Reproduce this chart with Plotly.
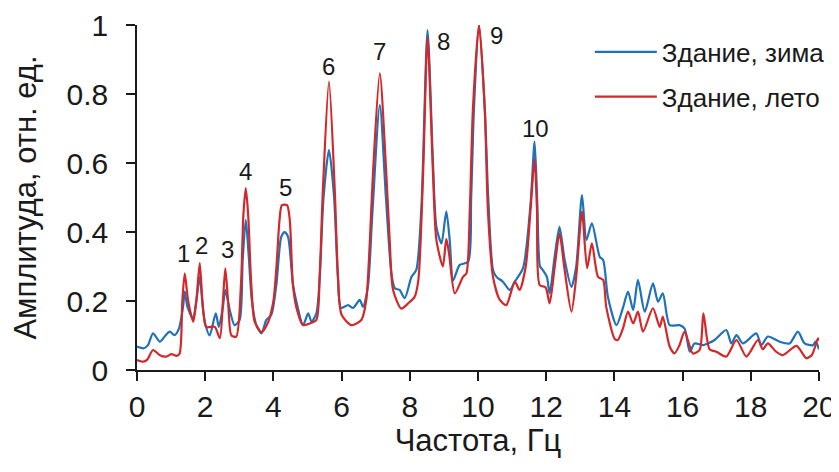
import plotly.graph_objects as go

# ---- data ----
freq_winter = [0.0, 0.2, 0.32, 0.47, 0.67, 0.81, 0.96, 1.1, 1.23, 1.35, 1.40, 1.48, 1.64, 1.74, 1.84, 1.93,
               2.0, 2.13, 2.31, 2.40, 2.52, 2.59, 2.72, 2.86, 3.01, 3.1, 3.19, 3.27, 3.37, 3.5, 3.65, 3.79,
               3.94, 4.09, 4.23, 4.33, 4.43, 4.57, 4.67, 4.87, 5.02, 5.12, 5.26, 5.36, 5.47, 5.63, 5.78, 5.89,
               5.98, 6.19, 6.34, 6.53, 6.63, 6.77, 6.9, 7.12, 7.3, 7.46, 7.56, 7.7, 7.85, 8.05, 8.19, 8.34,
               8.52, 8.68, 8.78, 8.93, 9.07, 9.17, 9.27, 9.46, 9.71, 9.8, 9.88, 10.03, 10.2, 10.3, 10.44, 10.54,
               10.73, 10.93, 11.08, 11.32, 11.54, 11.66, 11.74, 11.82, 11.9, 12.02, 12.1, 12.25, 12.39, 12.54,
               12.74, 12.88, 13.05, 13.18, 13.34, 13.57, 13.67, 13.81, 14.06, 14.25, 14.4, 14.55, 14.69, 14.89,
               15.13, 15.28, 15.42, 15.62, 15.91, 16.06, 16.21, 16.35, 16.6, 16.74, 16.94, 17.28, 17.43, 17.58,
               17.77, 18.16, 18.31, 18.5, 18.85, 19.14, 19.38, 19.58, 19.82, 19.9, 20.0]
amp_winter = [0.068, 0.063, 0.072, 0.106, 0.082, 0.097, 0.111, 0.101, 0.12, 0.183, 0.227, 0.183, 0.15, 0.2, 0.27, 0.18,
              0.135, 0.10, 0.164, 0.125, 0.183, 0.232, 0.174, 0.13, 0.145, 0.32, 0.435, 0.34, 0.2, 0.13, 0.106, 0.145,
              0.16, 0.25, 0.386, 0.40, 0.386, 0.25, 0.2, 0.13, 0.164, 0.14, 0.164, 0.27, 0.5, 0.638, 0.5, 0.27,
              0.18, 0.188, 0.18, 0.203, 0.183, 0.24, 0.45, 0.768, 0.5, 0.28, 0.237, 0.232, 0.208, 0.27, 0.29, 0.47,
              0.985, 0.6, 0.415, 0.367, 0.46, 0.377, 0.26, 0.304, 0.314, 0.5, 0.754, 1.0, 0.754, 0.5, 0.29, 0.27,
              0.256, 0.232, 0.256, 0.295, 0.48, 0.662, 0.48, 0.3, 0.29, 0.27, 0.222, 0.33, 0.415, 0.32,
              0.241, 0.3, 0.507, 0.377, 0.425, 0.328, 0.319, 0.212, 0.13, 0.18, 0.227, 0.174, 0.261, 0.169,
              0.251, 0.198, 0.222, 0.13, 0.13, 0.12, 0.053, 0.077, 0.072, 0.077, 0.087, 0.116, 0.077, 0.101,
              0.077, 0.106, 0.072, 0.097, 0.082, 0.077, 0.111, 0.077, 0.072, 0.082, 0.06]

freq_summer = [0.0, 0.18, 0.3, 0.47, 0.67, 0.86, 1.01, 1.16, 1.25, 1.33, 1.40, 1.50, 1.65, 1.74, 1.84, 1.92,
               2.03, 2.28, 2.43, 2.52, 2.59, 2.67, 2.77, 2.91, 3.05, 3.12, 3.19, 3.26, 3.35, 3.45, 3.65, 3.85,
               4.0, 4.09, 4.18, 4.25, 4.40, 4.48, 4.57, 4.67, 4.87, 5.07, 5.26, 5.36, 5.45, 5.63, 5.80, 5.89,
               6.0, 6.29, 6.58, 6.72, 6.83, 6.92, 7.12, 7.31, 7.41, 7.51, 7.75, 7.95, 8.14, 8.25, 8.39, 8.52,
               8.68, 8.78, 8.97, 9.07, 9.15, 9.32, 9.56, 9.66, 9.76, 9.85, 10.03, 10.2, 10.29, 10.44, 10.64, 10.83,
               11.08, 11.22, 11.40, 11.54, 11.66, 11.73, 11.81, 11.98, 12.1, 12.25, 12.39, 12.54, 12.74, 12.88,
               13.05, 13.2, 13.34, 13.52, 13.67, 13.76, 14.01, 14.1, 14.25, 14.4, 14.55, 14.69, 14.84, 15.13,
               15.33, 15.42, 15.62, 15.76, 15.9, 16.06, 16.3, 16.5, 16.61, 16.79, 16.99, 17.28, 17.58, 17.87,
               18.21, 18.35, 18.5, 18.74, 18.94, 19.34, 19.63, 19.8, 19.97, 20.0]
amp_summer = [0.029, 0.024, 0.03, 0.058, 0.043, 0.039, 0.046, 0.041, 0.048, 0.2, 0.28, 0.2, 0.14, 0.2, 0.31, 0.2,
              0.125, 0.125, 0.092, 0.2, 0.295, 0.2, 0.10, 0.097, 0.25, 0.45, 0.527, 0.45, 0.25, 0.14, 0.11, 0.14,
              0.2, 0.30, 0.435, 0.478, 0.478, 0.435, 0.25, 0.183, 0.13, 0.135, 0.145, 0.28, 0.52, 0.836, 0.52, 0.28,
              0.16, 0.13, 0.145, 0.2, 0.377, 0.57, 0.86, 0.57, 0.377, 0.232, 0.178, 0.193, 0.212, 0.26, 0.57, 0.965,
              0.57, 0.377, 0.30, 0.38, 0.338, 0.222, 0.27, 0.28, 0.464, 0.754, 1.0, 0.754, 0.464, 0.27, 0.203, 0.188,
              0.256, 0.232, 0.30, 0.464, 0.613, 0.464, 0.246, 0.24, 0.193, 0.3, 0.396, 0.29, 0.169, 0.27,
              0.459, 0.295, 0.367, 0.27, 0.261, 0.183, 0.09, 0.087, 0.12, 0.169, 0.135, 0.169, 0.111, 0.179,
              0.125, 0.155, 0.068, 0.048, 0.07, 0.111, 0.048, 0.058, 0.164, 0.06, 0.053, 0.039, 0.087, 0.039,
              0.087, 0.06, 0.077, 0.053, 0.043, 0.07, 0.034, 0.045, 0.092, 0.085]

peak_labels = ["1", "2", "3", "4", "5", "6", "7", "8", "9", "10"]
peak_label_x = [1.37, 1.90, 2.66, 3.19, 4.36, 5.62, 7.11, 8.99, 10.55, 11.69]
peak_label_y = [0.339, 0.362, 0.348, 0.574, 0.530, 0.881, 0.922, 0.951, 0.971, 0.701]

x_ticks = [0, 2, 4, 6, 8, 10, 12, 14, 16, 18, 20]
y_ticks = [0, 0.2, 0.4, 0.6, 0.8, 1]
y_tick_text = ["0", "0.2", "0.4", "0.6", "0.8", "1"]

name_winter = "Здание, зима"
name_summer = "Здание, лето"
x_title = "Частота, Гц"
y_title = "Амплитуда, отн. ед."

FONT = "Liberation Sans, Arial, sans-serif"
INK = "#1a1a1a"
BLUE = "#1f72b8"
RED = "#d3282a"

fig = go.Figure()
fig.add_trace(go.Scatter(x=freq_winter, y=amp_winter, mode="lines", name=name_winter,
                         legendgroup="a",
                         line=dict(color=BLUE, width=2.2, shape="spline", smoothing=0.7)))
fig.add_trace(go.Scatter(x=freq_summer, y=amp_summer, mode="lines", name=name_summer,
                         legendgroup="b",
                         line=dict(color=RED, width=2.2, shape="spline", smoothing=0.7)))

for t, px, py in zip(peak_labels, peak_label_x, peak_label_y):
    fig.add_annotation(x=px, y=py, text=t, showarrow=False, xref="x", yref="y",
                       font=dict(family=FONT, size=24, color=INK))

fig.update_layout(
    width=831, height=450,
    margin=dict(l=129, r=20, t=17, b=88, autoexpand=False),
    paper_bgcolor="white", plot_bgcolor="white",
    font=dict(family=FONT, color=INK),
    showlegend=True,
    legend=dict(x=0.664, y=0.99, xanchor="left", yanchor="top",
                font=dict(family=FONT, size=26, color=INK),
                bgcolor="rgba(0,0,0,0)", tracegroupgap=8, itemwidth=62),
    xaxis=dict(range=[0, 20], tickvals=x_ticks, ticks="outside", ticklen=9, tickwidth=1.5,
               tickcolor=INK, showline=True, linecolor=INK, linewidth=1.5,
               showgrid=False, zeroline=False, automargin=False, ticklabeloverflow="allow",
               tickfont=dict(family=FONT, size=30, color=INK),
               title=dict(text=x_title, font=dict(family=FONT, size=31, color=INK), standoff=10)),
    yaxis=dict(range=[0, 1], tickvals=y_ticks, ticktext=y_tick_text, ticks="outside", ticklen=9,
               tickwidth=1.5, tickcolor=INK, showline=True, linecolor=INK, linewidth=1.5,
               showgrid=False, zeroline=False, automargin=False, ticklabelstandoff=12,
               tickfont=dict(family=FONT, size=30, color=INK),
               title=dict(text=y_title, font=dict(family=FONT, size=31, color=INK), standoff=22)),
)

fig.write_html("out.html")
